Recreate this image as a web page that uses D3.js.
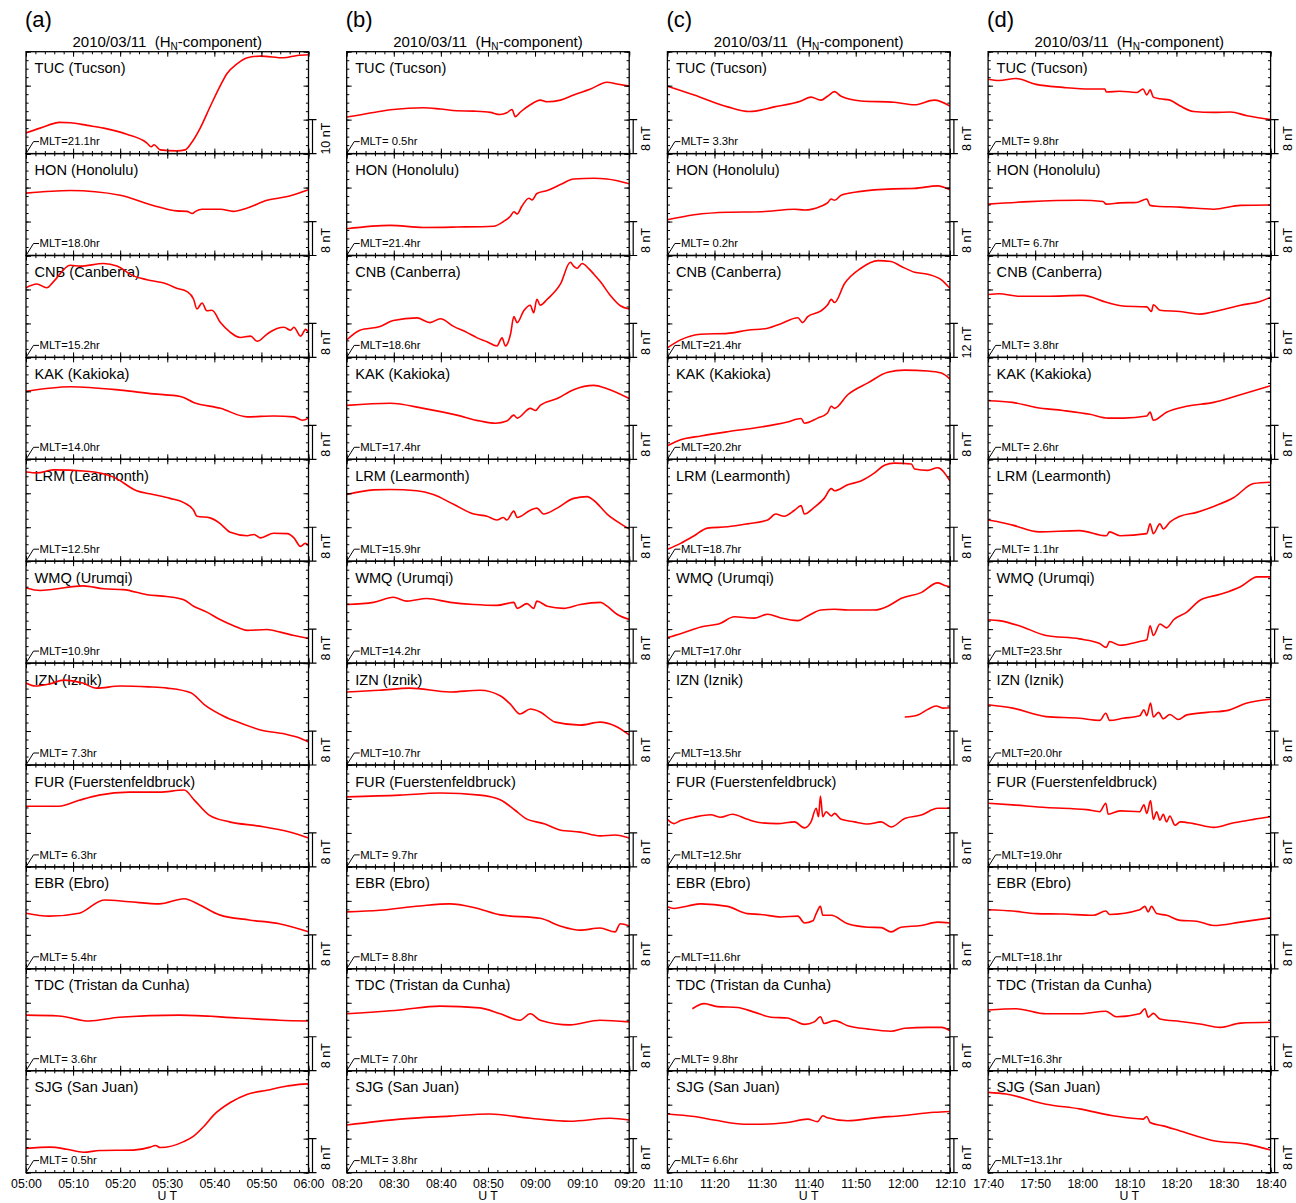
<!DOCTYPE html>
<html>
<head>
<meta charset="utf-8">
<script src="https://cdn.jsdelivr.net/npm/d3@7"></script>
<style>
  body { margin: 0; background: #fff; }
  text { font-family: "Liberation Sans", Arial, Helvetica, sans-serif; fill: #000; }
</style>
</head>
<body>
<svg id="chart" width="1296" height="1203"></svg>
<script>
// ---- Data -----------------------------------------------------------------
const panelLetters = ["(a)", "(b)", "(c)", "(d)"];
const startTimes = ["2010-03-11T05:00:00Z", "2010-03-11T08:20:00Z", "2010-03-11T11:10:00Z", "2010-03-11T17:40:00Z"];
const stations = ["TUC (Tucson)", "HON (Honolulu)", "CNB (Canberra)", "KAK (Kakioka)", "LRM (Learmonth)",
  "WMQ (Urumqi)", "IZN (Iznik)", "FUR (Fuerstenfeldbruck)", "EBR (Ebro)", "TDC (Tristan da Cunha)", "SJG (San Juan)"];

// magnetic local time (hr) of each station at the start of the window
const mltA = [21.1, 18.0, 15.2, 14.0, 12.5, 10.9, 7.3, 6.3, 5.4, 3.6, 0.5];
const mltB = [0.5, 21.4, 18.6, 17.4, 15.9, 14.2, 10.7, 9.7, 8.8, 7.0, 3.8];
const mltC = [3.3, 0.2, 21.4, 20.2, 18.7, 17.0, 13.5, 12.5, 11.6, 9.8, 6.6];
const mltD = [9.8, 6.7, 3.8, 2.6, 1.1, 23.5, 20.0, 19.0, 18.1, 16.3, 13.1];

// scale bar size (nT); each panel spans three bars
const barA = [10, 8, 8, 8, 8, 8, 8, 8, 8, 8, 8];
const barB = [8, 8, 8, 8, 8, 8, 8, 8, 8, 8, 8];
const barC = [8, 8, 12, 8, 8, 8, 8, 8, 8, 8, 8];
const barD = [8, 8, 8, 8, 8, 8, 8, 8, 8, 8, 8];

// H_N traces: [minutes after window start, nT above panel floor]
const tracesA = [
  [[0,6.1],[3,7.5],[7.2,9.2],[9.4,9.1],[13,8.3],[16.5,7.5],[21.4,5.7],[25.7,3.1],[26.6,2.0],[27.2,2.6],[28.5,1.1],[32,0.8],[33.8,1.1],[35,2.9],[37,7.5],[39.1,13.8],[41.3,20.1],[42.7,23.6],[44.8,26.4],[47,28.2],[49.8,28.7],[54.7,28.2],[57.6,28.9],[60,29.1]],
  [[0,14.7],[9.4,15.3],[20,14.2],[27,11.8],[32,10.5],[34.2,10.4],[35.3,9.9],[36,10.4],[37.4,10.9],[41.3,10.9],[44,10.4],[47,11.2],[51.2,13],[55.5,13.9],[60,15.5]],
  [[0,16.4],[2.3,17.3],[4.4,16.4],[5.8,17.8],[9.4,21.7],[11.5,21.5],[16.5,22.1],[19.3,21.5],[22.8,19.2],[25.7,18.3],[29.9,17.3],[32,16.3],[34.2,15.5],[35.6,13.7],[36.3,11.4],[37.4,12.8],[38.4,11],[39.5,11.1],[41.3,8.2],[43.4,5.9],[45.5,4.7],[47.7,5],[49.1,3.8],[51.2,5.5],[53.3,6.8],[54.8,7.1],[56.2,6.4],[56.9,7.1],[58.3,5],[59.4,6.6],[60,5.9]],
  [[0,16],[9.4,17.1],[20,16.3],[27,15.4],[32.8,14.8],[35.6,13.4],[41.3,12],[47,10],[52.6,10.2],[56.9,10],[58.7,9.2],[60,9.7]],
  [[0,21],[2.3,20.8],[5.8,21.5],[12.9,21.2],[18.6,19.8],[23.5,16.6],[27,15.7],[30.6,14.8],[33.5,13.8],[35.6,12],[36.3,10.6],[39.1,10.2],[41.3,8.8],[43.4,6.8],[47,6],[48.4,6.3],[49.8,5.5],[52.6,6.6],[55.5,6.5],[56.9,5.5],[58.3,3.5],[59.3,4.2],[60,3.7]],
  [[0,17.7],[3,17.1],[5.8,17.4],[12.2,18.2],[16.5,17.5],[20.7,17.3],[25.7,16.1],[29.9,15.7],[33.5,14.9],[35.6,13.4],[38.4,12],[41.3,10.2],[44.1,8.8],[47,7.7],[51.2,7.9],[54,7.3],[56.9,6.5],[60,5.8]],
  [[0,19.3],[2,18.6],[5,19.1],[8,20],[12,19.3],[15,18.1],[20,18.6],[26,18.4],[30,18.1],[35,17],[38,14.1],[42,11.5],[45,10.1],[50,8.2],[55,7.3],[58,6.4],[60,5.4]],
  [[0,14.3],[7,14.3],[11.3,15.7],[15.5,16.9],[21.9,17.6],[28.3,17.6],[33.6,18.1],[35.7,15.8],[38.9,12.2],[43.2,10.6],[49.6,9.6],[56,8.2],[60,6.8]],
  [[0,13.1],[4.9,12.4],[11.3,13.1],[16.6,16.2],[21.9,15.8],[28.3,15.3],[33.6,16.5],[36.8,15.1],[41.1,12.7],[47.4,11.5],[53.8,10.6],[60,8.7]],
  [[0,13.1],[7,12.9],[13.4,11.7],[19.8,12.6],[32.6,13.1],[45.3,12.4],[53.8,11.9],[60,11.7]],
  [[0,5.7],[5.1,6],[8.7,5.5],[12.2,4.8],[15.7,5.2],[22.8,5.3],[26.4,6],[27.5,6.4],[28.5,5.9],[33.5,7.3],[35.6,8.6],[37.7,10.8],[39.9,13.6],[43.4,16.5],[46.9,18.4],[51.2,19.4],[55.5,20.4],[59.7,20.9],[60,20.6]]
];
const tracesB = [
  [[0,8.6],[5.7,9.7],[9.9,10.4],[16.3,10.8],[19.9,10.5],[23.4,10.1],[27,10],[30.5,9.7],[32.6,9.2],[34,9.6],[35.1,10.4],[35.8,8.7],[36.9,9.8],[39,11.5],[41.1,12.6],[42.6,12.2],[45.4,12.6],[48.2,13.8],[51.8,15.2],[55.3,16.8],[57.4,16.4],[60,15.9]],
  [[0,6.3],[9.2,7.1],[16.3,6.6],[23.4,6.7],[31.2,6.9],[33.3,8],[34.8,9.3],[35.5,10.3],[36.2,9.8],[37.2,11.6],[38.7,13.5],[39.4,13.1],[40.4,14.6],[42.6,15.3],[45.4,16.7],[48.2,18],[52.5,18.2],[55.3,18],[60,16.9]],
  [[0,4.1],[2.8,6.4],[7.1,7.3],[9.9,8.7],[14.9,9.3],[17.7,8.2],[19.9,9.1],[22.7,7.3],[25.5,5.9],[27.7,4.6],[29.8,3.7],[31.9,2.7],[33,4.6],[33.7,2.7],[34.8,5.5],[35.5,9.6],[36.2,8.2],[37.6,11],[39,12.3],[39.7,10.5],[40.4,13.7],[41.1,12.3],[42.6,13.7],[45.4,17.3],[47.5,22.4],[48.2,21.5],[48.9,21],[50,22.1],[51.4,20.9],[52.5,19.6],[53.9,17.8],[56,14.6],[58.2,12.1],[60,11.4]],
  [[0,12.7],[9.2,13.2],[16.3,12],[23.4,10.4],[28.4,9],[31.6,8.5],[34,9],[35.5,10.4],[36.2,9.7],[39,12],[40.1,11.5],[41.1,12.7],[44.7,14.3],[48.2,16.4],[52.5,17.4],[55.3,16.6],[60,14.3]],
  [[0,15.7],[5.7,16.8],[9.2,16.9],[14.9,16.6],[18.4,15.7],[22.7,13.4],[27,11.1],[29.8,10.6],[31.9,9.7],[33.3,10.3],[34,9.7],[35.5,11.8],[36.2,10.3],[39,12],[40.4,12.5],[41.8,11.1],[44.7,12.5],[48.2,14.8],[51.1,15.2],[52.5,14.3],[55.3,11.1],[58.2,8.8],[60,7.6]],
  [[0,13.8],[5.7,14.3],[9.9,15.5],[12.8,14.6],[17,15.2],[22,14.3],[27,13.8],[31.9,13.6],[35.5,14.3],[36.2,12.9],[38.3,14],[39.7,12.9],[40.4,14.6],[42.6,13.4],[46.1,12.9],[49.6,13.8],[53.9,14.3],[55.3,13.4],[57.4,11.5],[60,10.3]],
  [[0,17.2],[7,17.6],[13.4,18.1],[21.9,17.2],[28.3,17.6],[32.6,16.3],[34.7,14.4],[36.8,12],[39,13.2],[41.1,12.5],[44.3,10.1],[49.6,9.4],[53.8,10.1],[57,9.2],[60,7.1]],
  [[0,16.5],[11.3,16.9],[19.8,17.4],[28.3,16.9],[32.6,15.8],[35.7,13.4],[37.9,11.5],[42.1,10.1],[45.3,8.7],[49.6,8.2],[53.8,7.3],[57,7.5],[60,6.8]],
  [[0,13.4],[7,13.8],[15.5,14.8],[21.9,15.3],[27.2,14.4],[32.6,12.7],[41.1,11.9],[45.3,10.1],[49.6,9.1],[53.8,9.6],[57,8.7],[58.1,10.6],[60,10.1]],
  [[0,13.4],[11.3,14.3],[19.8,15.2],[28.3,14.8],[32.6,13.4],[36.8,11.9],[39,13.4],[41.1,11.9],[47.4,10.8],[53.8,11.9],[60,11.5]],
  [[0,11.2],[11.3,12.6],[21.9,13.3],[30.4,13.8],[39,12.8],[47.4,12.1],[56,12.8],[60,12.4]]
];
const tracesC = [
  [[0,15.9],[5.7,13.8],[12.8,11],[17.4,9.9],[22.7,11],[28.4,12.4],[30.5,13.3],[32.6,12.6],[34,13.5],[35.5,14.6],[36.9,13.5],[41.1,12.4],[48.2,12.1],[52.5,11.5],[56.7,12.6],[60,11.2]],
  [[0,8.4],[5.7,9.6],[12.8,10.2],[19.9,10.3],[27,10.9],[29.1,10.7],[32.6,11.6],[34,12.4],[34.8,13.3],[35.5,13],[36.9,14.2],[41.1,15.1],[48.2,15.7],[52.5,15.8],[57.4,16.4],[60,15.5]],
  [[0,3.4],[2.8,6.2],[7.1,8.2],[12.8,8.5],[17,9.6],[21.3,10.3],[24.1,11.9],[27.7,14],[28.7,12.3],[29.8,14.4],[32.6,16.4],[34,18.5],[34.8,20.5],[35.5,19.4],[37.6,26],[41.1,31.5],[44.7,34.2],[47.5,33.9],[49.6,32.2],[52.5,30.1],[55.3,29.4],[58.2,27.4],[60,24.4]],
  [[0,3.2],[2.8,4.6],[7.1,5.5],[12.8,6.5],[19.9,7.6],[25.5,8.8],[28.4,9.6],[29.1,8.5],[31.9,9.7],[34,10.9],[34.8,12.5],[35.5,12],[38.3,15.2],[42.6,18],[46.8,20.5],[50.4,21],[55.3,20.8],[58.2,20.3],[60,18.9]],
  [[0,2.8],[2.8,4.2],[5.7,6],[8.5,7.8],[12.8,8.1],[17,8.8],[21.3,9.7],[23,11.1],[24.8,10.6],[27,12],[28.4,13.1],[29.1,11.1],[31.2,12.7],[33.3,14.8],[34.8,17.1],[35.5,16.6],[38.3,18],[41.1,18.9],[44,20.8],[46.1,22.6],[48.2,23.1],[51.8,22.9],[52.5,21.7],[55.3,21.4],[57.4,22],[60,18.9]],
  [[0,6],[2.8,6.9],[7.1,8.5],[11.3,9.4],[14.2,10.9],[18.4,10.6],[21.3,11.5],[24.1,10.6],[27.7,10],[29.8,11.1],[32.6,12.5],[35.5,12.7],[38.3,12.5],[44,12.5],[46.8,13.4],[49.6,15.2],[53.9,16.6],[57.4,18.9],[58.9,18.3],[60,18]],
  [[50.4,11.3],[53.2,11.8],[55.3,13.1],[57.1,13.9],[58.5,13.4],[60,13.5]],
  [[0,11.2],[1.4,10.2],[2.8,10.9],[5.7,11.7],[9.2,12.3],[11.3,11.7],[13.8,12.4],[17,11.2],[19.9,10.4],[23.4,10.2],[27,10.6],[29.1,9.2],[30.5,10.6],[31.6,13.8],[32.1,11.8],[32.5,16.7],[33,11.8],[33.7,13],[34.8,12],[35.5,12.6],[36.9,11.2],[39.7,10.6],[42.6,10.1],[45.4,10.6],[47.5,9.4],[50.4,11.4],[53.9,12.2],[57.4,13.8],[60,13.8]],
  [[0,14.6],[1.4,14.2],[4.3,14.8],[7.1,15.3],[12.8,14.7],[17,13],[19.9,12.8],[24.1,12.2],[27.7,12.4],[29.1,10.8],[30.9,11.3],[31.6,13],[32.5,14.7],[33,12.6],[34.8,12.6],[38.3,10.6],[42.6,9.8],[45.4,9.7],[47.5,8.7],[49.6,9.8],[53.9,10.2],[57.4,11],[60,10.8]],
  [[5.3,14.6],[7.8,15.8],[10.6,15.1],[14.9,14.9],[18.4,13.8],[22,12.6],[25.5,12.4],[27,11.8],[29.1,10.9],[31.2,11.5],[32.5,12.7],[33.3,11.1],[35.5,11.8],[38.3,10.6],[42.6,9.8],[47.5,9.3],[50.4,10],[55.3,10.2],[58.2,10.2],[60,9.4]],
  [[0,13.8],[5.7,13.2],[9.9,12.4],[16.3,11.4],[19.9,11.4],[25.5,11.8],[29.8,12.6],[31.9,12],[33,13.4],[34,12.9],[38.3,12.2],[44,12.9],[49.6,13.4],[56.7,14.2],[60,14.4]]
];
const tracesD = [
  [[0,17.5],[2.3,17.2],[5.9,17.7],[10.2,16.3],[15.9,15.6],[21.6,15.2],[24.8,15.2],[25.1,14.5],[28,14.7],[31.5,14.4],[32.9,15.2],[33.7,13.8],[34.4,15],[35.1,13.3],[36.5,12.9],[38.6,12.6],[40.8,11.2],[43.6,9.9],[47.9,9.7],[51.5,9.8],[55,8.9],[60,8]],
  [[0,12.1],[8.8,12.7],[19.4,13],[24.4,12.7],[25.1,12.1],[28,12.4],[31.5,12.5],[33.7,13.3],[34.4,11.8],[35.8,11.6],[40.8,11.4],[47.9,10.9],[53.6,11.8],[60,11.9]],
  [[0,14.8],[2.3,15],[6.6,14.4],[12.3,14.4],[20.1,14.6],[25.1,13],[28.7,12.1],[33.7,11.9],[34.7,10.8],[35.1,12.4],[36.5,11.1],[40.8,10.8],[45,10.2],[49.3,11.1],[53.6,12.3],[57.9,13.2],[60,14.2]],
  [[0,13.8],[5.2,13.4],[10.2,12.2],[15.9,11.5],[21.6,10.6],[25.5,9.7],[28.7,9.7],[33.7,10.2],[34.4,11.1],[35.1,9.2],[37.9,11.1],[42.2,12.5],[47.9,13.4],[53.6,15.2],[60,17.3]],
  [[0,9.7],[1.6,9.4],[5.2,8.5],[10.9,6.9],[19.4,7.2],[25.1,6],[25.8,6.9],[28,6],[33.7,6.5],[34.4,8.8],[35.1,6.5],[36.5,8.8],[37.2,7.6],[38.6,9.2],[40.8,10.6],[44.3,11.5],[47.9,12.9],[52.2,15],[56.4,18.3],[60,18.6]],
  [[0,10.2],[2.3,10],[6.6,8.8],[12.3,6.5],[19.4,5.7],[23.7,4.6],[25.1,3.7],[25.8,5.1],[28,4.2],[32.2,5.1],[33.7,5.5],[34.4,8.8],[35.1,6.5],[36.5,9.2],[37.9,8.3],[39.4,10.2],[42.2,12],[45,14.8],[49.3,16.2],[53.6,18],[57.2,20.3],[60,20.3]],
  [[0,14.2],[5.2,13.4],[12.3,11.4],[19.4,11],[23.7,10.5],[25,12.2],[25.8,10.5],[28.7,11],[32.2,11.6],[33.1,13],[33.7,11.6],[34.5,14.6],[35.1,11.3],[36.2,12.4],[37.2,10.9],[38.6,11.9],[40.4,10.7],[42.2,11.8],[46.5,12.4],[50.7,12.8],[55,14.6],[60,15.5]],
  [[0,15],[5.2,14.6],[12.3,14],[20.9,13.5],[23.7,13],[25,15],[25.5,12.4],[28,13.2],[32.2,13],[33.1,14.6],[33.7,12.6],[34.5,15.6],[35.1,11.2],[35.8,13],[36.5,11],[37.2,12.4],[37.9,10.6],[38.6,12],[39.7,9.8],[40.8,10.6],[43.6,10.2],[47.9,9.3],[52.2,10.4],[56.4,11.2],[60,11.8]],
  [[0,13.9],[5.2,13.6],[10.2,13],[15.9,12.9],[22.3,12.6],[25,13.6],[25.8,12.8],[32.2,13.9],[33.3,14.7],[34,13.4],[34.7,14.7],[35.8,13],[37.9,12.6],[40.8,11.4],[44.3,11.2],[47.9,10.2],[53.6,11],[60,12]],
  [[0,14.3],[5.9,14.6],[12.3,13.4],[19.4,13.4],[25,14],[27.3,12.7],[32.2,13.4],[33.3,14.6],[34,12.6],[35.1,13.5],[36.5,12.2],[40.8,11.6],[45,11],[49.3,10.2],[53.6,11.2],[60,11.4]],
  [[0,18.9],[3.8,18.5],[12.3,16.1],[19.4,15],[26.5,13.4],[32.9,12.6],[33.7,13.2],[34.4,11.8],[37.2,11],[40.8,9.8],[47.9,7.5],[55,6.7],[60,5.3]]
];

// ---- Layout ---------------------------------------------------------------
const left0 = 26, colStep = 320.7, panelW = 282.5;
const top0 = 51.7, rowH = 101.9;
const red = "#ff0000";

const columns = [
  { letter: panelLetters[0], start: startTimes[0], mlt: mltA, bar: barA, traces: tracesA },
  { letter: panelLetters[1], start: startTimes[1], mlt: mltB, bar: barB, traces: tracesB },
  { letter: panelLetters[2], start: startTimes[2], mlt: mltC, bar: barC, traces: tracesC },
  { letter: panelLetters[3], start: startTimes[3], mlt: mltD, bar: barD, traces: tracesD }
];

const svg = d3.select("#chart");
const defs = svg.append("defs");
const fmt = d3.utcFormat("%H:%M");

function styleAxis(g) {
  g.select(".domain").remove();
  g.selectAll(".tick line").attr("stroke", "#000").attr("stroke-width", 1);
}

columns.forEach((col, ci) => {
  const x0 = left0 + ci * colStep;
  const t0 = new Date(col.start);
  const t1 = new Date(+t0 + 60 * 60000);
  const x = d3.scaleUtc().domain([t0, t1]).range([x0, x0 + panelW]);
  const tx = m => x(new Date(+t0 + m * 60000));
  const majorX = d3.utcMinute.every(10);
  const minorX = d3.utcMinute.every(2);

  // column letter and title
  svg.append("text").attr("x", x0 - 1).attr("y", 27).attr("font-size", 22).text(col.letter);
  const title = svg.append("text")
    .attr("x", x0 + panelW / 2).attr("y", 46.5)
    .attr("text-anchor", "middle").attr("font-size", 15)
    .style("white-space", "pre");
  title.append("tspan").text("2010/03/11  (H");
  title.append("tspan").attr("font-size", 10).attr("dy", 3.5).text("N");
  title.append("tspan").attr("dy", -3.5).text("-component)");

  stations.forEach((name, ri) => {
    const top = top0 + ri * rowH, bottom = top + rowH;
    const bar = col.bar[ri];
    const y = d3.scaleLinear().domain([0, 3 * bar]).range([bottom, top]);
    const g = svg.append("g");

    const clipId = `clip-${ci}-${ri}`;
    defs.append("clipPath").attr("id", clipId)
      .append("rect").attr("x", x0).attr("y", top).attr("width", panelW).attr("height", rowH);

    // station name
    g.append("text").attr("x", x0 + 8.5).attr("y", top + 21.5).attr("font-size", 14.6).text(name);

    // MLT label with its leader
    g.append("path")
      .attr("d", `M${x0},${bottom}L${x0 + 7.5},${bottom - 12}L${x0 + 13},${bottom - 12}`)
      .attr("fill", "none").attr("stroke", "#000").attr("stroke-width", 1);
    const m = col.mlt[ri];
    g.append("text").attr("x", x0 + 13.5).attr("y", bottom - 8.2)
      .attr("font-size", 11.3).style("white-space", "pre")
      .text(`MLT=${m < 10 ? " " : ""}${m.toFixed(1)}hr`);

    // trace
    const line = d3.line().x(d => tx(d[0])).y(d => y(d[1])).curve(d3.curveMonotoneX);
    g.append("path").datum(col.traces[ri])
      .attr("d", line)
      .attr("fill", "none").attr("stroke", red).attr("stroke-width", 1.6)
      .attr("stroke-linejoin", "round")
      .attr("clip-path", `url(#${clipId})`);

    // inward ticks on all four sides
    const yMajor = d3.range(0, 3 * bar + 1e-6, bar);
    const yMinor = d3.range(0, 3 * bar + 1e-6, bar / 4);
    [[minorX, 2.6], [majorX, 5]].forEach(([iv, len]) => {
      g.append("g").attr("transform", `translate(0,${bottom})`)
        .call(d3.axisBottom(x).ticks(iv).tickSize(-len).tickSizeOuter(0).tickFormat(""))
        .call(styleAxis);
      g.append("g").attr("transform", `translate(0,${top})`)
        .call(d3.axisTop(x).ticks(iv).tickSize(-len).tickSizeOuter(0).tickFormat(""))
        .call(styleAxis);
    });
    [[yMinor, 2.6], [yMajor, 5]].forEach(([vals, len]) => {
      g.append("g").attr("transform", `translate(${x0},0)`)
        .call(d3.axisLeft(y).tickValues(vals).tickSize(-len).tickSizeOuter(0).tickFormat(""))
        .call(styleAxis);
      g.append("g").attr("transform", `translate(${x0 + panelW},0)`)
        .call(d3.axisRight(y).tickValues(vals).tickSize(-len).tickSizeOuter(0).tickFormat(""))
        .call(styleAxis);
    });

    // frame
    g.append("rect").attr("x", x0).attr("y", top).attr("width", panelW).attr("height", rowH)
      .attr("fill", "none").attr("stroke", "#000").attr("stroke-width", 1.3);

    // scale bar on the right
    const xr = x0 + panelW;
    const yb0 = y(0), yb1 = y(bar);
    g.append("path")
      .attr("d", `M${xr},${yb1}H${xr + 8}M${xr + 4},${yb1}V${yb0}M${xr},${yb0}H${xr + 8}`)
      .attr("fill", "none").attr("stroke", "#000").attr("stroke-width", 1.2);
    g.append("text")
      .attr("transform", `translate(${xr + 17},${bottom - 15}) rotate(-90)`)
      .attr("text-anchor", "middle").attr("dominant-baseline", "central")
      .attr("font-size", 12.5).text(`${bar} nT`);

    // time labels under the last row
    if (ri === stations.length - 1) {
      const ax = g.append("g").attr("transform", `translate(0,${bottom})`)
        .call(d3.axisBottom(x).ticks(majorX).tickSize(0).tickPadding(7).tickFormat(fmt));
      ax.select(".domain").remove();
      ax.selectAll("text").attr("font-size", 12.3)
        .attr("font-family", "'Liberation Sans', Arial, Helvetica, sans-serif").attr("fill", "#000");
      ax.attr("font-size", null).attr("font-family", null);
      g.append("text").attr("x", x0 + panelW / 2).attr("y", bottom + 27.5)
        .attr("text-anchor", "middle").attr("font-size", 12.3).style("white-space", "pre").text("U T");
    }
  });
});
</script>
</body>
</html>
